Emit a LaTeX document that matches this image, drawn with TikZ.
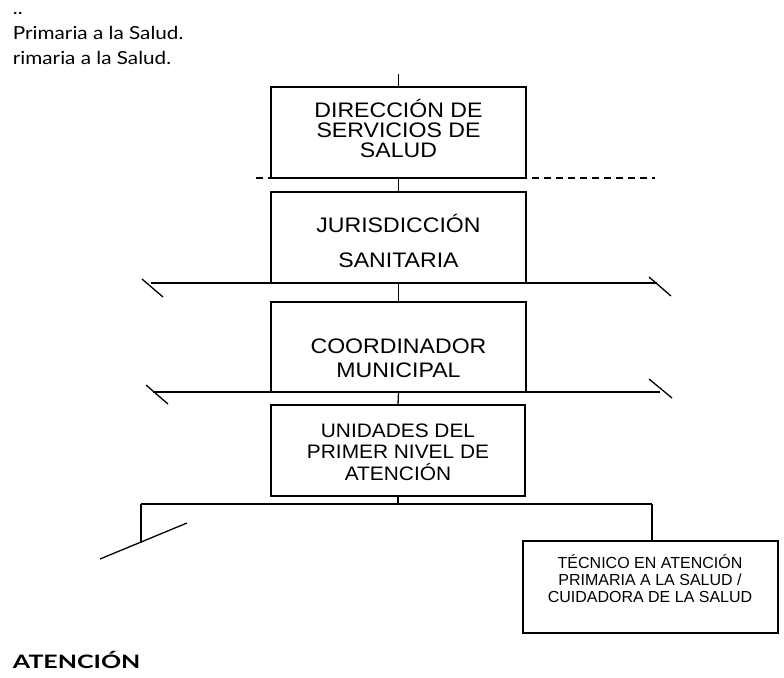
\documentclass[tikz,border=0pt]{standalone}
\usepackage{fontspec}
\setmainfont{Liberation Sans}
\newfontfamily\boxfont[FakeStretch=1.1]{Liberation Sans}
\newfontfamily\boxfontb[FakeStretch=1.07]{Liberation Sans}
\newfontfamily\smallboxfont{Liberation Sans}
\newfontfamily\gillfont[FakeStretch=1.15]{Lato}
\newfontfamily\gillbold[FakeStretch=1.35]{Lato}
\begin{document}
\begin{tikzpicture}[x=1pt,y=-1pt,
  orgbox/.style={draw, line width=1.4pt, inner sep=0pt, minimum width=255pt, minimum height=91pt},
  link/.style={line width=1.3pt},
  dashline/.style={line width=1.2pt, dash pattern=on 7pt off 5pt},
  bigtxt/.style={anchor=base, inner sep=0pt, font=\boxfont\fontsize{21}{21}\selectfont},
  midtxt/.style={anchor=base, inner sep=0pt, font=\boxfontb\fontsize{19.5}{19.5}\selectfont},
  smalltxt/.style={anchor=base, inner sep=0pt, font=\smallboxfont\fontsize{16}{16}\selectfont},
  headtxt/.style={anchor=base west, inner sep=0pt, font=\gillfont\fontsize{18}{18}\selectfont},
  foottxt/.style={anchor=base west, inner sep=0pt, font=\gillbold\bfseries\fontsize{18.5}{18.5}\selectfont}
]
\useasboundingbox (0,0) rectangle (784,677);

% header text
\node[headtxt] (h0) at (12.7,15) {..};
\node[headtxt] (h1) at (12.7,39.3) {Primaria a la Salud.};
\node[headtxt] (h2) at (12.7,64) {rimaria a la Salud.};

% boxes
\node[orgbox] (b1) at (398.5,132.5) {};
\node[orgbox] (b2) at (398.5,237.5) {};
\node[orgbox, minimum height=90pt] (b3) at (398.5,347) {};
\node[orgbox, minimum width=254pt] (b4) at (398,450.5) {};
\node[orgbox, minimum height=92pt] (b5) at (650.5,587) {};

% box texts
\node[bigtxt] (t1a) at (398.5,117) {DIRECCIÓN DE};
\node[bigtxt] (t1b) at (398.5,137) {SERVICIOS DE};
\node[bigtxt] (t1c) at (398.5,157) {SALUD};
\node[bigtxt] (t2a) at (398.5,232) {JURISDICCIÓN};
\node[bigtxt] (t2b) at (398.5,267) {SANITARIA};
\node[bigtxt] (t3a) at (398.5,353) {COORDINADOR};
\node[bigtxt] (t3b) at (398.5,377) {MUNICIPAL};
\node[midtxt] (t4a) at (398,437) {UNIDADES DEL};
\node[midtxt] (t4b) at (398,458) {PRIMER NIVEL DE};
\node[midtxt] (t4c) at (398,480) {ATENCIÓN};
\node[smalltxt] (t5a) at (650,568) {TÉCNICO EN ATENCIÓN};
\node[smalltxt] (t5b) at (650,585) {PRIMARIA A LA SALUD /};
\node[smalltxt] (t5c) at (650,602) {CUIDADORA DE LA SALUD};

% footer
\node[foottxt] (f1) at (12.7,668.3) {ATENCIÓN};

% coordinates
\coordinate (top) at (398.5,74);
\coordinate (dL) at (256,178);
\coordinate (dR) at (655,178);
\coordinate (h1L) at (151,283);
\coordinate (h1R) at (657,283);
\coordinate (k1a) at (142,279);
\coordinate (k1b) at (163,297);
\coordinate (k2a) at (649,277);
\coordinate (k2b) at (671,296);
\coordinate (h2L) at (153,392);
\coordinate (h2R) at (660,392);
\coordinate (k3a) at (146,385);
\coordinate (k3b) at (168,404);
\coordinate (k4a) at (649,379);
\coordinate (k4b) at (672,398);
\coordinate (j) at (398,504);
\coordinate (jl) at (141,504);
\coordinate (jr) at (652,504);
\coordinate (lend) at (141,543);
\coordinate (dg1) at (100,559);
\coordinate (dg2) at (187,523);

% connectors
\draw[link] (top) -- (b1.north);
\draw[dashline] (dL) -- (dR);
\draw[link] (b1.south) -- (b2.north);
\draw[link] (h1L) -- (h1R);
\draw[link] (k1a) -- (k1b);
\draw[link] (k2a) -- (k2b);
\draw[link] (b2.south) -- (b3.north);
\draw[link] (h2L) -- (h2R);
\draw[link] (k3a) -- (k3b);
\draw[link] (k4a) -- (k4b);
\draw[link] (b3.south) -- (b4.north);
\draw[link] (b4.south) -- (j);
\draw[link] (jl) -- (jr);
\draw[link] (jl) -- (lend);
\draw[link] (jr) -- (jr |- b5.north);
\draw[link] (dg1) -- (dg2);
\end{tikzpicture}
\end{document}
